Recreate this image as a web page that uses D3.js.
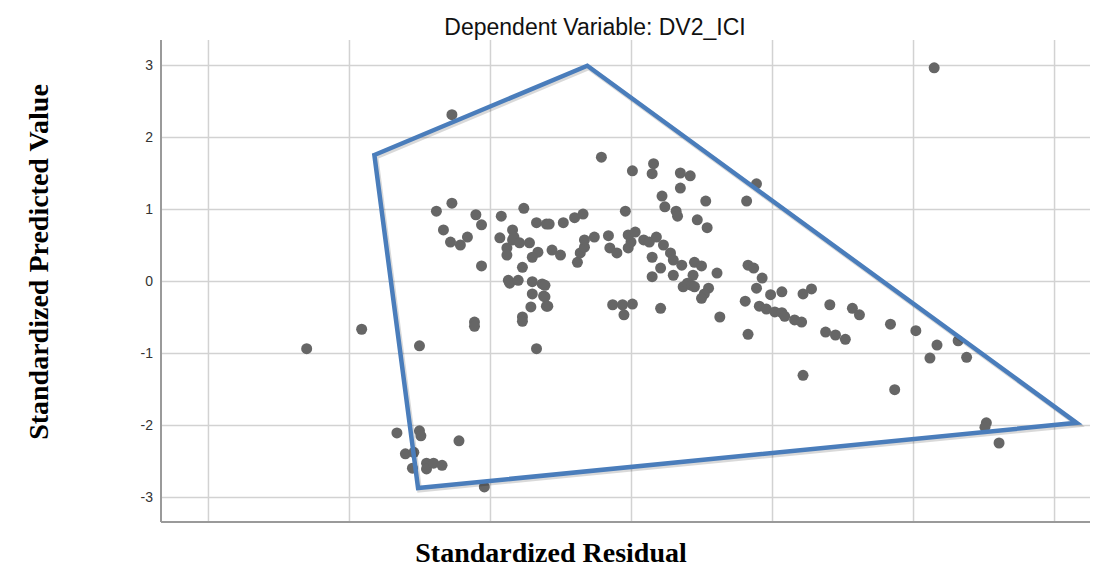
<!DOCTYPE html>
<html>
<head>
<meta charset="utf-8">
<script src="https://cdn.jsdelivr.net/npm/d3@7"></script>
<style>
  body { margin: 0; background: #fff; }
  .grid line { stroke: #d2d2d2; stroke-width: 1.5; }
  .grid path { display: none; }
  .yAxis text { font-family: Arial, "Liberation Sans", sans-serif; font-size: 14px; fill: #333; }
</style>
</head>
<body>
<div id="scatter"></div>
<script>
// SPSS style residual plot
var chartTitle = "Dependent Variable: DV2_ICI";
var xLabel = "Standardized Residual";
var yLabel = "Standardized Predicted Value";
var yTicks = [-3, -2, -1, 0, 1, 2, 3];
var xGrid = [-3, -2, -1, 0, 1, 2, 3];

// standardized residual (x) for each case
var residual = [
  -2.30, -1.91, -1.50, -1.27, 2.15, -1.11, -1.11, -0.67,
  -1.66, -1.50, -1.49, -1.22, -1.60, -1.54, -1.55, -1.45, -1.45, -1.40, -1.34, -1.04,
  -1.38, -1.27, -1.33, -1.28, -1.21, -1.16, -1.10, -1.06, -1.06,
  -0.92, -0.76, -0.93, -0.88, -0.88, -0.84, -0.84, -0.83, -0.79, -0.72, -0.67, -0.60,
  -0.66, -0.70, -0.77, -0.87, -0.86, -0.80, -0.70, -0.63, -0.70, -0.62, -0.71, -0.60, -0.77, -0.77,
  -0.58, -0.48, -0.40, -0.34, -0.56, -0.50, -0.38, -0.36, -0.33, -0.33, -0.26, -0.16, -0.15, -0.10,
  -0.02, 0.00, -0.02, 0.03, 0.09, 0.13, 0.18, 0.15, 0.21, 0.15, 0.23, 0.28, 0.30, 0.30, 0.36, 0.37,
  -0.61, -0.61, -0.59, -0.13, -0.06, 0.01, -0.05, 0.21,
  -0.04, -0.21, 0.01, 0.16, 0.15, 0.22, 0.24, 0.32, 0.33, 0.35, 0.42, 0.35, 0.53, 0.82, 0.89, 0.47, 0.54,
  0.45, 0.50, 0.44, 0.40, 0.43, 0.45, 0.55, 0.52, 0.50, 0.61, 0.63,
  0.83, 0.87, 0.93, 0.89, 0.99, 1.07, 1.22, 1.28, 0.81, 0.91, 0.96, 1.02, 1.07, 1.09, 1.16, 1.21, 0.83,
  1.41, 1.57, 1.62, 1.84, 2.02, 1.38, 1.45, 1.52, 2.17, 2.32, 2.12, 2.38, 1.22, 1.87, 2.52, 2.51, 2.61
];

// standardized predicted value (y), same order as above
var predicted = [
  -0.94, -0.67, -0.90, 2.31, 2.96, -0.57, -0.63, -0.94,
  -2.11, -2.08, -2.15, -2.22, -2.40, -2.38, -2.60, -2.53, -2.61, -2.53, -2.56, -2.86,
  0.97, 1.08, 0.71, 0.54, 0.50, 0.61, 0.92, 0.78, 0.21,
  0.90, 1.01, 0.60, 0.46, 0.36, 0.57, 0.71, 0.61, 0.53, 0.53, 0.81, 0.79,
  0.40, 0.33, 0.19, 0.01, -0.03, 0.01, -0.01, -0.04, -0.18, -0.21, -0.36, -0.35, -0.50, -0.56,
  0.79, 0.81, 0.88, 0.93, 0.43, 0.36, 0.26, 0.39, 0.47, 0.57, 0.61, 0.63, 0.46, 0.39,
  0.46, 0.54, 0.64, 0.68, 0.57, 0.54, 0.61, 0.33, 0.18, 0.06, 0.50, 0.39, 0.29, 0.08, 0.22, -0.08,
  -0.06, -0.22, -0.35, -0.33, -0.33, -0.32, -0.47, -0.38,
  0.97, 1.72, 1.53, 1.63, 1.49, 1.18, 1.03, 0.97, 0.90, 1.50, 1.46, 1.29, 1.11, 1.11, 1.35, 0.85, 0.74,
  0.26, 0.21, 0.08, -0.03, -0.06, -0.08, -0.10, -0.18, -0.24, 0.11, -0.50,
  0.22, 0.18, 0.04, -0.10, -0.19, -0.15, -0.18, -0.11, -0.28, -0.35, -0.39, -0.43, -0.44, -0.49, -0.54, -0.57, -0.74,
  -0.33, -0.38, -0.47, -0.60, -0.69, -0.71, -0.75, -0.81, -0.89, -0.83, -1.07, -1.06, -1.31, -1.51, -1.97, -2.03, -2.25
];

// the hand drawn blue outline, corners in data units
var hullX = [-1.82, -0.31, 3.16, -1.51];
var hullY = [1.75, 2.99, -1.97, -2.875];

var width = 1093;
var height = 568;
// note: can't call it "top", that's window.top
var plotL = 161, plotR = 1090, plotT = 40, plotB = 522;

var svg = d3.select("#scatter")
    .append("svg")
    .attr("width", width)
    .attr("height", height);

var xScale = d3.scaleLinear()
    .domain([-3.333, 3.255])
    .range([plotL, plotR]);

var yScale = d3.scaleLinear()
    .domain([-3.347, 3.347])
    .range([plotB, plotT]);

// vertical grid (no labels on x in the original)
svg.append("g")
    .attr("class", "grid")
    .attr("transform", `translate(0, ${plotB})`)
    .call(d3.axisBottom(xScale).tickValues(xGrid).tickSize(-(plotB - plotT)).tickFormat(""));

// horizontal grid + the tick numbers (plain hyphen like SPSS, not the unicode minus)
svg.append("g")
    .attr("class", "grid yAxis")
    .attr("transform", `translate(${plotL}, 0)`)
    .call(d3.axisLeft(yScale).tickValues(yTicks).tickSize(-(plotR - plotL)).tickPadding(8)
        .tickFormat(function(d) { return String(d); }));

// axis lines
svg.append("line")
    .attr("x1", plotL).attr("x2", plotL)
    .attr("y1", plotT).attr("y2", plotB)
    .attr("stroke", "#9a9a9a").attr("stroke-width", 2);
svg.append("line")
    .attr("x1", plotL).attr("x2", plotR)
    .attr("y1", plotB).attr("y2", plotB)
    .attr("stroke", "#9a9a9a").attr("stroke-width", 2);

// points
var cases = residual.map(function(r, i) { return {x: r, y: predicted[i]}; });
svg.selectAll("circle.pt")
    .data(cases)
    .enter()
    .append("circle")
    .attr("class", "pt")
    .attr("cx", function(d) { return xScale(d.x); })
    .attr("cy", function(d) { return yScale(d.y); })
    .attr("r", 5.5)
    .attr("fill", "#666666");

// blue outline with a faint shadow
var hull = hullX.map(function(x, i) { return [xScale(x), yScale(hullY[i])]; });
var line = d3.line().curve(d3.curveLinearClosed);
svg.append("path")
    .attr("d", line(hull))
    .attr("fill", "none")
    .attr("stroke", "rgba(0,0,0,0.15)")
    .attr("stroke-width", 5)
    .attr("transform", "translate(1.5,2)");
svg.append("path")
    .attr("d", line(hull))
    .attr("fill", "none")
    .attr("stroke", "#4a7dbb")
    .attr("stroke-width", 4.5)
    .attr("stroke-linejoin", "miter");

// titles
svg.append("text")
    .attr("x", 595)
    .attr("y", 35)
    .attr("text-anchor", "middle")
    .style("font-family", "Arial, 'Liberation Sans', sans-serif")
    .style("font-size", "23px")
    .style("fill", "#111")
    .text(chartTitle);

svg.append("text")
    .attr("x", 551)
    .attr("y", 562)
    .attr("text-anchor", "middle")
    .style("font-family", "'Times New Roman', 'Liberation Serif', serif")
    .style("font-weight", "bold")
    .style("font-size", "28px")
    .text(xLabel);

svg.append("text")
    .attr("transform", "translate(48, 262) rotate(-90)")
    .attr("text-anchor", "middle")
    .style("font-family", "'Times New Roman', 'Liberation Serif', serif")
    .style("font-weight", "bold")
    .style("font-size", "28px")
    .text(yLabel);
</script>
</body>
</html>
